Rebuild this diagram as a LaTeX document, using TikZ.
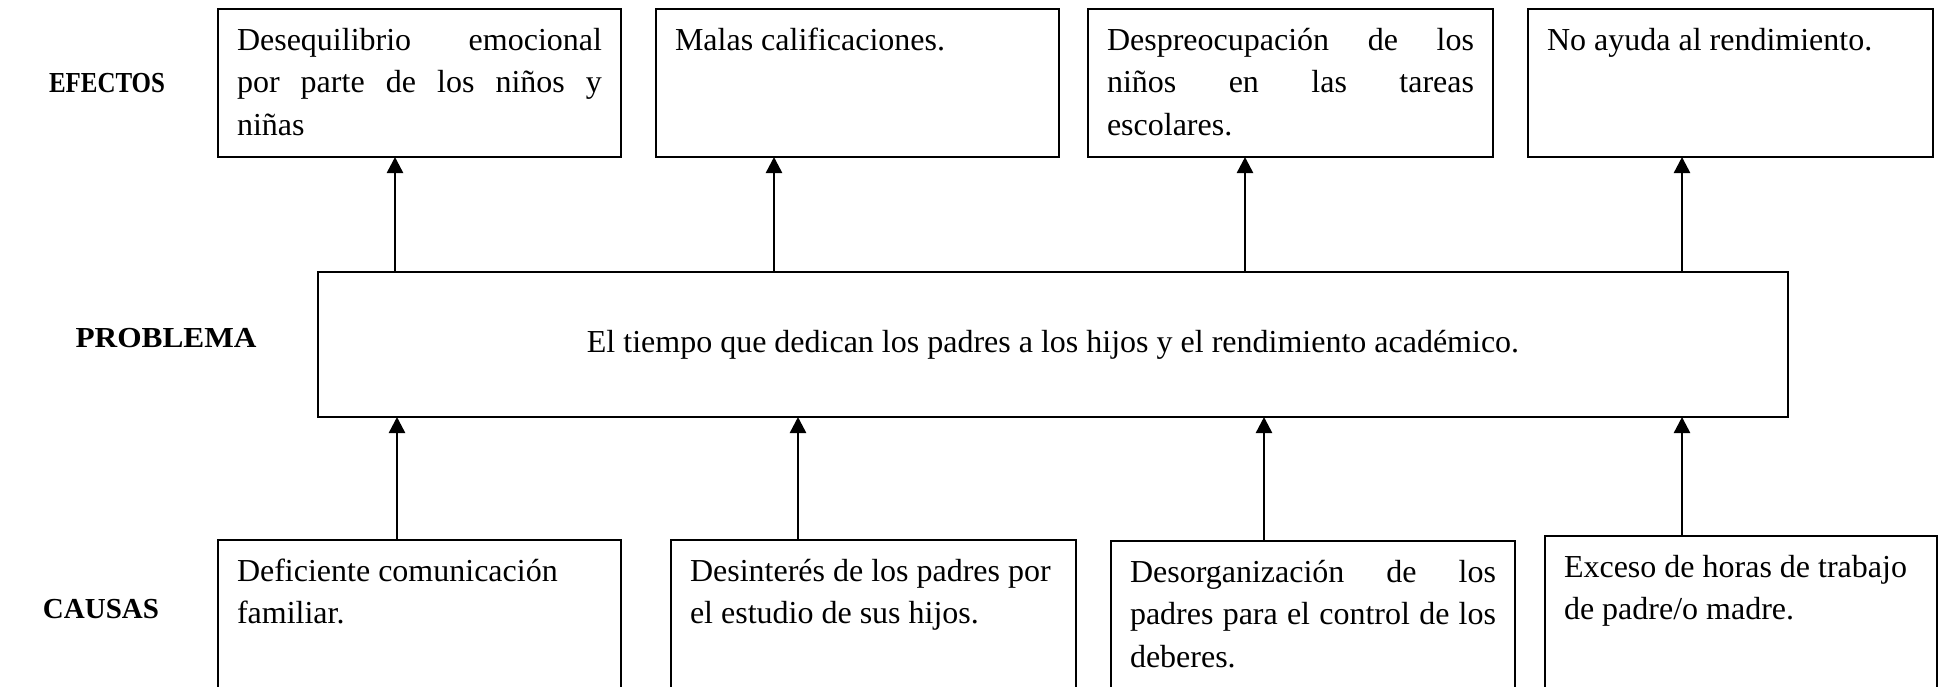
\documentclass[tikz,border=0pt]{standalone}
\usepackage{fontspec}
\setmainfont{Liberation Serif}
\usetikzlibrary{arrows.meta}
\newcommand{\bodyfs}{\fontsize{32pt}{42.5pt}\selectfont}
\newcommand{\labfs}{\fontsize{29pt}{35pt}\selectfont\bfseries}
\newcommand{\jl}[1]{\makebox[\linewidth][s]{#1}\newline}
\newcommand{\bx}[3]{\parbox[c][#1][t]{#2}{\bodyfs\rule{0pt}{41pt}#3}}
\begin{document}
\begin{tikzpicture}[x=1pt,y=-1pt,
  tbox/.style={draw, line width=2pt, inner xsep=19pt, inner ysep=0pt, outer sep=0pt, anchor=north west},
  pbox/.style={draw, line width=2pt, inner sep=0pt, outer sep=0pt, anchor=north west, font=\bodyfs},
  lab/.style={font=\labfs, inner sep=0pt},
  arr/.style={-{Triangle[width=16pt,length=16pt]}, line width=2.5pt}]
\fill[white] (0,0) rectangle (1953,686);
\clip (0,0) rectangle (1953,686);
% labels
\node[lab] (lE) at (107,83) {\scalebox{0.86}[1]{EFECTOS}};
\node[lab] (lP) at (166,338) {\scalebox{1.08}[1]{PROBLEMA}};
\node[lab] (lC) at (101,609) {CAUSAS};
% effects
\node[tbox] (E1) at (218,9) {\bx{148pt}{365pt}{\jl{Desequilibrio emocional}\jl{por parte de los niños y}niñas}};
\node[tbox] (E2) at (656,9) {\bx{148pt}{365pt}{Malas calificaciones.}};
\node[tbox] (E3) at (1088,9) {\bx{148pt}{367pt}{\jl{Despreocupación de los}\jl{niños en las tareas}escolares.}};
\node[tbox] (E4) at (1528,9) {\bx{148pt}{367pt}{No ayuda al rendimiento.}};
% problem
\node[pbox, minimum width=1470pt, minimum height=145pt] (P) at (318,272) {\raisebox{3pt}{El tiempo que dedican los padres a los hijos y el rendimiento académico.}};
% causes
\node[tbox] (C1) at (218,540) {\bx{170pt}{365pt}{Deficiente comunicación\newline familiar.}};
\node[tbox] (C2) at (671,540) {\bx{170pt}{367pt}{Desinterés de los padres por\newline el estudio de sus hijos.}};
\node[tbox] (C3) at (1111,541) {\bx{170pt}{366pt}{\jl{Desorganización de los}\jl{padres para el control de los}deberes.}};
\node[tbox] (C4) at (1545,536) {\bx{170pt}{354pt}{Exceso de horas de trabajo\newline de padre/o madre.}};
% arrows problem -> effects
\draw[arr] ([xshift=-24.5pt]E1.south |- P.north) -- ([xshift=-24.5pt]E1.south);
\draw[arr] ([xshift=-83.5pt]E2.south |- P.north) -- ([xshift=-83.5pt]E2.south);
\draw[arr] ([xshift=-45.5pt]E3.south |- P.north) -- ([xshift=-45.5pt]E3.south);
\draw[arr] ([xshift=-48.5pt]E4.south |- P.north) -- ([xshift=-48.5pt]E4.south);
% arrows causes -> problem
\draw[arr] ([xshift=-22.5pt]C1.north) -- ([xshift=-22.5pt]C1.north |- P.south);
\draw[arr] ([xshift=-75.5pt]C2.north) -- ([xshift=-75.5pt]C2.north |- P.south);
\draw[arr] ([xshift=-49pt]C3.north) -- ([xshift=-49pt]C3.north |- P.south);
\draw[arr] ([xshift=-59pt]C4.north) -- ([xshift=-59pt]C4.north |- P.south);
\end{tikzpicture}
\end{document}
